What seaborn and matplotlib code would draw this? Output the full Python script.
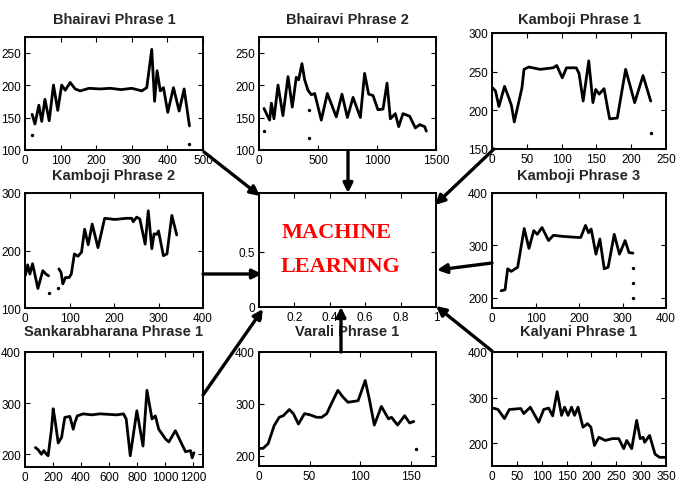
import matplotlib
matplotlib.use("Agg")
import matplotlib.pyplot as plt
import seaborn as sns
import pandas as pd
from matplotlib.patches import FancyArrowPatch

sns.set_theme(style="ticks")
NARROW = ['Liberation Sans Narrow', 'Liberation Sans', 'DejaVu Sans']
plt.rcParams['font.family'] = NARROW

# ---------------- data ----------------
bhairavi1_x = [20, 28, 39, 47, 56, 68, 80, 92, 103, 113, 127, 141, 155, 180, 210, 240, 270, 300, 328, 342,
               356, 364, 371, 380, 389, 401, 417, 433, 447, 462]
bhairavi1_y = [155, 140, 169, 144, 178, 145, 200, 161, 200, 192, 204, 194, 191, 195, 194, 195, 193, 195, 191, 196,
               255, 175, 222, 191, 196, 158, 196, 160, 194, 137]
bhairavi1_ox = [20, 462]
bhairavi1_oy = [123, 110]

bhairavi2_x = [42, 71, 90, 105, 127, 161, 203, 246, 282, 316, 336, 364, 387, 415, 444, 472, 528, 579, 655, 703,
               749, 797, 859, 895, 929, 966, 1008, 1051, 1085, 1113, 1155, 1184, 1220, 1277, 1325, 1362, 1404, 1418]
bhairavi2_y = [164, 153, 146, 172, 148, 200, 153, 213, 166, 212, 208, 233, 208, 192, 185, 187, 146, 187, 151, 186,
               150, 181, 150, 218, 186, 184, 162, 163, 203, 148, 156, 136, 156, 152, 134, 139, 136, 129]
bhairavi2_ox = [42, 421, 421]
bhairavi2_oy = [130, 161, 119]

kamboji1_x = [1, 5, 10, 18, 25, 28, 32, 43, 46, 53, 69, 88, 93, 101, 107, 121, 125, 131, 139, 145,
              149, 154, 161, 169, 180, 192, 205, 217, 228]
kamboji1_y = [229, 225, 205, 231, 214, 206, 185, 229, 253, 256, 253, 255, 258, 242, 255, 255, 248, 212, 264, 210,
              227, 221, 228, 189, 190, 253, 210, 245, 212]
kamboji1_ox = [228]
kamboji1_oy = [171]

kamboji2_x = [1, 6, 11, 17, 29, 40, 47, 53, None, 76, 81, 85, 91, 99, 104, 111, 119, 127, 134, 142,
              151, 164, 179, 202, 228, 240, 243, 251, 258, 270, 277, 285, 290, 296, 300, 311, 319, 330, 341]
kamboji2_y = [157, 175, 159, 177, 134, 165, 159, 156, None, 168, 162, 142, 153, 153, 159, 194, 190, 197, 237, 210,
              246, 205, 256, 254, 256, 256, 250, 258, 255, 211, 269, 203, 229, 228, 234, 191, 194, 261, 227]
kamboji2_ox = [53, 74]
kamboji2_oy = [126, 134]

kamboji3_x = [21, 30, 36, 44, 59, 74, 85, 96, 104, 115, 130, 141, 163, 196, 204, 215, 222, 228, 239, 248,
              258, 267, 281, 293, 306, 315, 324]
kamboji3_y = [213, 215, 255, 250, 258, 332, 294, 328, 321, 334, 309, 319, 317, 315, 315, 338, 324, 331, 283, 312,
              255, 258, 321, 283, 309, 286, 285]
kamboji3_ox = [324, 324, 324]
kamboji3_oy = [256, 228, 200]

sankara_x = [74, 93, 117, 134, 153, 165, 189, 201, 213, 237, 261, 284, 320, 344, 356, 373, 416, 475, 535, 595,
             655, 703, 722, 751, 798, 842, 870, 906, 930, 954, 1002, 1026, 1073, 1145, 1181, 1193, 1205]
sankara_y = [213, 209, 200, 207, 200, 197, 249, 289, 269, 222, 233, 272, 274, 249, 262, 275, 279, 277, 279, 278,
             277, 279, 269, 197, 285, 216, 325, 269, 275, 249, 230, 224, 246, 205, 207, 193, 203]

varali_x = [1, 4, 9, 15, 20, 24, 30, 34, 39, 45, 50, 57, 62, 67, 71, 78, 83, 88, 98, 105,
            109, 114, 121, 128, 131, 137, 144, 149, 153]
varali_y = [214, 214, 223, 258, 274, 277, 289, 281, 261, 281, 279, 274, 274, 281, 298, 326, 313, 303, 306, 345,
            310, 259, 295, 271, 274, 259, 277, 263, 266]
varali_ox = [155]
varali_oy = [213]

kalyani_x = [2, 12, 25, 35, 58, 64, 77, 94, 104, 114, 122, 131, 140, 146, 153, 160, 166, 173, 183, 192,
             199, 206, 215, 228, 242, 255, 265, 271, 281, 291, 298, 304, 307, 317, 328, 337, 350]
kalyani_y = [277, 274, 254, 274, 276, 265, 279, 246, 274, 277, 260, 313, 261, 279, 261, 279, 261, 279, 235, 243,
             235, 195, 213, 206, 210, 210, 188, 206, 188, 250, 210, 213, 202, 217, 176, 169, 169]

center_xticks = [0, 0.2, 0.4, 0.6, 0.8, 1]
center_xlabels = ["0", "0.2", "0.4", "0.6", "0.8", "1"]
center_yticks = [0, 0.5]
center_ylabels = ["0", "0.5"]

# ---------------- layout ----------------
W, H = 678, 489
fig = plt.figure(figsize=(W / 100, H / 100), dpi=100)


def add_axes_px(l, t, r, b):
    return fig.add_axes([l / W, 1 - b / H, (r - l) / W, (b - t) / H])


def style(ax):
    ax.tick_params(direction='in', top=True, right=True, length=3.5, width=0.8,
                   labelsize=8.5, pad=3, colors='black')
    for s in ax.spines.values():
        s.set_linewidth(1.4)
        s.set_color('black')
    ax.set_facecolor('white')
    ax.set_xlabel('')
    ax.set_ylabel('')


def panel(rect, x, y, ox, oy, title, xlim, ylim, xticks, yticks, tpad):
    ax = add_axes_px(*rect)
    df = pd.DataFrame({'x': x, 'y': y})
    seg = df['x'].isna().cumsum()
    for _, d in df.dropna().groupby(seg[df['x'].notna()]):
        sns.lineplot(data=d, x='x', y='y', ax=ax, color='black', lw=2.0,
                     sort=False, estimator=None, solid_joinstyle='round', solid_capstyle='round')
    if ox:
        sns.scatterplot(x=ox, y=oy, ax=ax, color='black', s=6, linewidth=0)
    ax.set_xlim(*xlim)
    ax.set_ylim(*ylim)
    ax.set_xticks(xticks)
    ax.set_yticks(yticks)
    ax.set_xticklabels([str(v) for v in xticks])
    ax.set_yticklabels([str(v) for v in yticks])
    style(ax)
    ax.set_title(title, fontsize=10.5, fontweight='bold', pad=tpad, family=NARROW)
    return ax


R = 666
panel((25, 38, 203, 151), bhairavi1_x, bhairavi1_y, bhairavi1_ox, bhairavi1_oy, 'Bhairavi Phrase 1',
      (0, 500), (100, 274), [0, 100, 200, 300, 400, 500], [100, 150, 200, 250], 10)
panel((259, 38, 436, 151), bhairavi2_x, bhairavi2_y, bhairavi2_ox, bhairavi2_oy, 'Bhairavi Phrase 2',
      (0, 1500), (100, 274), [0, 500, 1000, 1500], [100, 150, 200, 250], 10)
panel((492, 34, R, 150), kamboji1_x, kamboji1_y, kamboji1_ox, kamboji1_oy, 'Kamboji Phrase 1',
      (0, 250), (150, 300), [0, 50, 100, 150, 200, 250], [150, 200, 250, 300], 7)
panel((25, 194, 203, 309), kamboji2_x, kamboji2_y, kamboji2_ox, kamboji2_oy, 'Kamboji Phrase 2',
      (0, 400), (100, 300), [0, 100, 200, 300, 400], [100, 200, 300], 10)
panel((492, 194, R, 309), kamboji3_x, kamboji3_y, kamboji3_ox, kamboji3_oy, 'Kamboji Phrase 3',
      (0, 400), (180, 400), [0, 100, 200, 300, 400], [200, 300, 400], 10)
panel((25, 353, 203, 468), sankara_x, sankara_y, None, None, 'Sankarabharana Phrase 1',
      (0, 1270), (175, 400), [0, 200, 400, 600, 800, 1000, 1200], [200, 300, 400], 12)
panel((259, 353, 436, 467), varali_x, varali_y, varali_ox, varali_oy, 'Varali Phrase 1',
      (0, 175), (180, 400), [0, 50, 100, 150], [200, 300, 400], 12)
panel((492, 353, R, 467), kalyani_x, kalyani_y, None, None, 'Kalyani Phrase 1',
      (0, 350), (150, 400), [0, 50, 100, 150, 200, 250, 300, 350], [200, 300, 400], 12)

# centre box
cax = add_axes_px(259, 194, 436, 308)
cax.set_xlim(0, 1)
cax.set_ylim(0, 1.035)
cax.set_xticks(center_xticks)
cax.set_xticklabels(center_xlabels)
cax.set_yticks(center_yticks)
cax.set_yticklabels(center_ylabels)
style(cax)
serif = ['Liberation Serif', 'DejaVu Serif']
cax.text(0.44, 0.66, 'MACHINE', color='red', fontsize=16, fontweight='bold',
         family=serif, ha='center', va='center', transform=cax.transAxes)
cax.text(0.46, 0.36, 'LEARNING', color='red', fontsize=16, fontweight='bold',
         family=serif, ha='center', va='center', transform=cax.transAxes)

# arrows (figure pixel coordinates: start -> tip)
arrows = [((204, 153), (260, 197)),
          ((348, 152), (348, 194)),
          ((494, 150), (435, 206)),
          ((203, 275), (262, 275)),
          ((492, 264), (437, 271)),
          ((203, 396), (263, 310)),
          ((341, 353), (341, 308)),
          ((492, 352), (436, 307))]
for (x0, y0), (x1, y1) in arrows:
    fig.add_artist(FancyArrowPatch((x0 / W, 1 - y0 / H), (x1 / W, 1 - y1 / H),
                                   transform=fig.transFigure, arrowstyle='-|>',
                                   mutation_scale=14, lw=2.4, color='black',
                                   shrinkA=0, shrinkB=0, zorder=10))

fig.savefig('out.png', dpi=100, facecolor='white')
